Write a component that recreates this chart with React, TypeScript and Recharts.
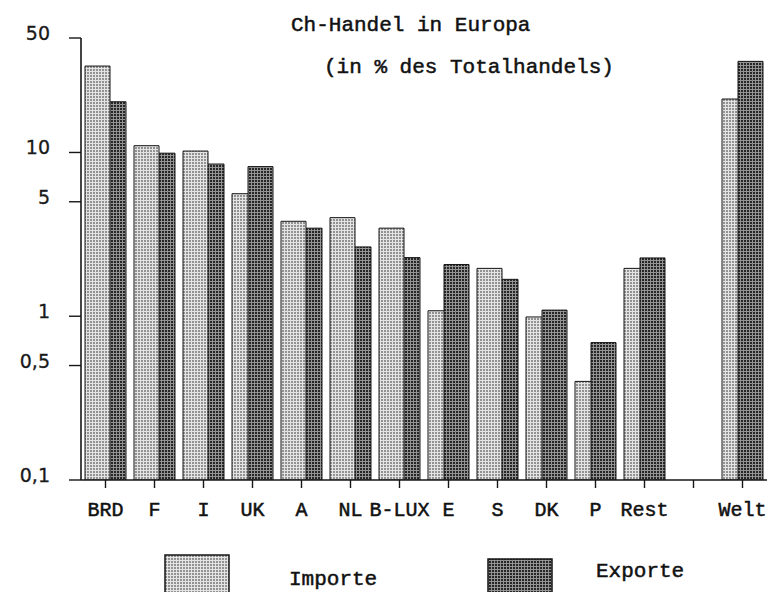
import React from 'react';
import { BarChart, Bar, XAxis, YAxis } from 'recharts';

const categories = ['BRD', 'F', 'I', 'UK', 'A', 'NL', 'B-LUX', 'E', 'S', 'DK', 'P', 'Rest', '', 'Welt'];
const importe: (number | null)[] = [33.7, 11.0, 10.2, 5.6, 3.8, 4.0, 3.45, 1.08, 1.96, 0.99, 0.4, 1.96, null, 21.2];
const exporte: (number | null)[] = [20.4, 9.9, 8.5, 8.2, 3.45, 2.65, 2.28, 2.07, 1.68, 1.09, 0.69, 2.27, null, 36.0];
const yTicks = [0.1, 0.5, 1, 5, 10, 50];
const seriesNames = ['Importe', 'Exporte'];
const title = 'Ch-Handel in Europa';
const subtitle = '(in % des Totalhandels)';

// Taller bar of each pair is drawn in front of the shorter one
const rows = categories.map((name, i) => {
  const im = importe[i];
  const ex = exporte[i];
  const impFront = im != null && ex != null ? im >= ex : true;
  return {
    name,
    impBack: impFront ? null : im,
    expBack: impFront ? ex : null,
    impFront: impFront ? im : null,
    expFront: impFront ? null : ex,
  };
});

const MONO = '"Liberation Mono", "DejaVu Sans Mono", monospace';
const SANS = '"DejaVu Sans", "Liberation Sans", sans-serif';
const INK = '#161616';

const YTick = (props: any) => {
  const { x, y, payload } = props;
  return (
    <text x={x} y={y} dy={-5} textAnchor="end" dominantBaseline="central"
      fontFamily={SANS} fontSize={19} fill="#1a1a1a" stroke="#1a1a1a" strokeWidth={0.3}>
      {String(payload.value).replace('.', ',')}
    </text>
  );
};

const monoText = { fontFamily: MONO, fontSize: 21, fill: '#111', stroke: '#111', strokeWidth: 0.5 };

export default function App() {
  return (
    <div style={{ position: 'relative', width: 768, height: 592, background: '#fff', overflow: 'hidden' }}>
      <style>{`body{margin:0;background:#fff}`}</style>
      <BarChart width={768} height={592} data={rows}
        margin={{ top: 38, right: 1, bottom: 82, left: 0 }}
        barSize={25} barGap={-9} barCategoryGap={0}>
        <XAxis xAxisId="back" dataKey="name" interval={0} height={30}
          tickSize={8} tickMargin={14}
          axisLine={{ stroke: INK, strokeWidth: 1.6 }}
          tickLine={{ stroke: INK, strokeWidth: 1.4 }}
          tick={{ fontFamily: MONO, fontSize: 20, fill: '#111', stroke: '#111', strokeWidth: 0.5 }} />
        <XAxis xAxisId="front" dataKey="name" hide />
        <YAxis type="number" scale="log" domain={[0.1, 50]} allowDataOverflow
          ticks={yTicks} interval={0} width={81} tickSize={12} tickMargin={19}
          axisLine={{ stroke: INK, strokeWidth: 1.6 }}
          tickLine={{ stroke: INK, strokeWidth: 1.4 }}
          tick={<YTick />} />
        <Bar xAxisId="back" dataKey="impBack" fill="url(#impPat)" stroke={INK} strokeWidth={1} isAnimationActive={false} />
        <Bar xAxisId="back" dataKey="expBack" fill="url(#expPat)" stroke={INK} strokeWidth={1} isAnimationActive={false} />
        <Bar xAxisId="front" dataKey="impFront" fill="url(#impPat)" stroke={INK} strokeWidth={1} isAnimationActive={false} />
        <Bar xAxisId="front" dataKey="expFront" fill="url(#expPat)" stroke={INK} strokeWidth={1} isAnimationActive={false} />
      </BarChart>
      <svg width={768} height={592} style={{ position: 'absolute', left: 0, top: 0, pointerEvents: 'none' }}>
        <defs>
          <pattern id="impPat" patternUnits="userSpaceOnUse" width={3} height={3}>
            <rect x={0} y={0} width={3} height={3} fill="#e4e4e4" />
            <rect x={0} y={0} width={2} height={2} fill="#929292" />
          </pattern>
          <pattern id="expPat" patternUnits="userSpaceOnUse" width={3} height={3}>
            <rect x={0} y={0} width={3} height={3} fill="#949494" />
            <rect x={0} y={0} width={2} height={2} fill="#262626" />
          </pattern>
        </defs>
        <text x={291} y={31} {...monoText}>{title}</text>
        <text x={324} y={73} {...monoText}>{subtitle}</text>
        <rect x={165} y={555} width={64} height={45} fill="url(#impPat)" stroke={INK} strokeWidth={1.5} />
        <text x={289} y={585} {...monoText}>{seriesNames[0]}</text>
        <rect x={488} y={559} width={64} height={45} fill="url(#expPat)" stroke={INK} strokeWidth={1.5} />
        <text x={596} y={577} {...monoText}>{seriesNames[1]}</text>
      </svg>
    </div>
  );
}
